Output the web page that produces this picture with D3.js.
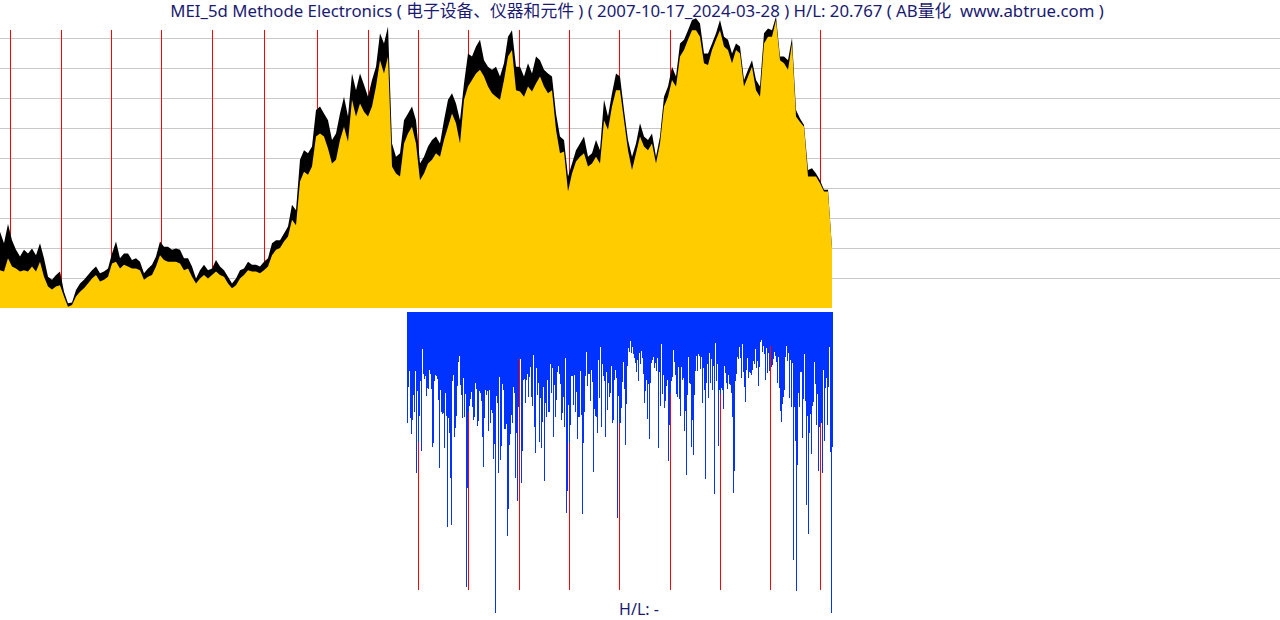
<!DOCTYPE html>
<html><head><meta charset="utf-8">
<script src="https://cdn.jsdelivr.net/npm/d3@7"></script>
<style>html,body{margin:0;padding:0;background:#fff;overflow:hidden}</style>
</head><body>
<svg id="c" width="1280" height="620"></svg>
<script>
const titleText = "MEI_5d Methode Electronics ( 电子设备、仪器和元件 ) ( 2007-10-17_2024-03-28 ) H/L: 20.767 ( AB量化  www.abtrue.com )";
const footerText = "H/L: -";
// trading-day index axis: total bars and index of first bar of each year (2008 … 2024)
const totalDays = 4138;
const yearLabels = [2008,2009,2010,2011,2012,2013,2014,2015,2016,2017,2018,2019,2020,2021,2022,2023,2024];
const yearStartDay = [50,303,552,801,1054,1313,1577,1830,2079,2328,2581,2830,3079,3332,3581,3830,4078];
const barStartDay = 2024;
const gridLevels = [5, 10, 15, 20, 25, 30, 35, 40, 45];

const highVals = [
12.7,10.8,14.0,11.3,9.7,8.6,9.7,9.1,9.9,8.8,10.8,8.3,5.2,4.7,5.5,6.1,2.7,0.8,0.9,3.0,
4.1,4.7,5.5,6.3,6.9,5.8,6.1,6.6,9.1,11.1,8.3,9.1,9.1,8.0,8.3,7.7,5.8,6.6,7.2,8.6,
11.1,10.2,10.2,9.7,9.9,9.7,8.3,8.3,6.9,4.9,6.3,7.2,6.3,6.6,8.0,6.9,6.3,5.2,4.1,4.9,
6.3,6.6,7.7,7.2,7.2,6.9,7.7,8.3,10.8,11.3,11.3,12.4,13.6,17.2,16.3,24.7,26.3,25.8,26.9,33.0,
33.6,32.4,31.3,28.0,29.1,32.4,35.2,31.9,39.1,36.3,39.1,37.2,35.2,38.0,40.2,45.8,44.1,46.9,27.4,25.2,
25.8,31.3,32.4,33.6,31.3,24.1,25.2,26.9,28.0,28.6,27.4,31.3,34.7,35.8,34.1,31.3,37.4,42.4,41.9,43.6,
44.7,41.3,40.2,39.7,40.2,38.6,40.8,45.2,46.3,40.2,40.2,38.6,40.8,39.1,41.9,41.3,39.7,39.1,38.6,32.4,
28.6,28.0,21.9,24.1,26.3,27.4,28.6,25.2,25.8,28.0,26.3,34.7,31.9,35.8,39.1,38.6,33.0,28.0,25.2,27.4,
30.8,28.6,28.0,29.1,25.2,28.6,35.2,36.9,40.2,38.6,44.1,44.7,46.3,48.0,48.3,47.4,42.4,42.4,44.1,45.8,
48.0,45.2,44.7,42.4,44.1,43.6,38.0,39.7,41.3,38.0,36.9,45.8,46.6,46.3,48.6,41.9,41.9,41.3,45.0,33.0,
31.6,30.5,23.0,23.3,22.4,21.3,19.7,19.7,9.9
];
const closeVals = [
6.3,6.1,8.3,6.9,6.6,6.1,6.3,6.1,6.9,6.1,7.7,5.2,3.6,3.1,3.6,3.8,1.9,0.2,0.5,1.9,
2.7,3.3,4.1,4.9,5.5,4.4,4.7,5.2,7.4,7.7,6.6,7.2,6.9,6.6,6.6,6.3,4.7,5.2,5.5,6.9,
8.8,8.0,7.7,7.7,7.7,7.4,6.3,6.6,5.2,4.1,4.9,5.5,4.9,5.5,6.1,5.5,5.2,4.1,3.3,3.8,
4.9,5.5,6.3,6.1,6.1,5.8,6.3,6.9,8.8,9.7,10.0,11.1,11.9,14.7,13.8,21.1,22.7,22.2,23.6,28.6,
29.1,28.6,26.6,24.1,24.7,28.0,30.2,27.7,34.7,31.9,34.1,32.7,31.9,33.6,36.9,41.3,39.1,41.9,23.6,22.4,
21.9,27.4,29.1,30.2,27.4,21.3,22.4,24.1,24.7,25.8,25.2,28.0,30.2,32.4,30.8,27.4,34.7,36.9,38.0,39.1,
39.7,38.6,36.9,35.8,35.2,34.7,38.0,41.9,43.0,36.3,36.1,35.2,36.9,36.1,37.4,38.6,36.9,35.8,36.3,29.7,
25.8,26.1,19.4,22.4,24.4,25.2,25.8,23.6,24.1,25.2,24.1,31.3,29.7,33.6,36.3,36.3,31.3,26.3,23.0,25.8,
28.6,26.9,26.3,27.4,24.1,27.4,33.6,35.2,38.0,36.9,41.9,43.0,44.7,46.3,46.3,45.2,40.8,40.5,43.0,44.7,
46.3,43.6,43.0,40.8,43.0,42.4,36.9,38.6,40.2,36.3,35.2,44.1,45.2,45.2,48.0,41.3,40.8,39.7,44.1,31.9,
31.0,30.2,21.9,21.9,21.9,20.8,19.4,19.4,9.9
];
const barVals = [
340,230,183,325,373,330,255,305,183,490,243,395,318,213,422,117,192,208,197,258,233,237,180,192,238,412,398,213,195,198,208,270,473,240,305,312,308,413,250,318,650,323,368,503,645,213,195,380,353,318,228,157,138,225,255,325,205,320,252,832,535,305,288,268,247,290,330,320,218,237,347,333,243,248,272,380,470,323,240,255,242,362,240,340,300,310,446,402,908,258,280,488,200,450,407,222,240,356,356,342,677,598,405,372,315,338,230,250,
505,368,572,290,147,147,520,422,210,207,280,210,193,262,200,170,262,287,135,350,428,173,255,218,395,263,413,335,232,512,278,320,210,305,305,162,248,173,380,225,320,270,185,168,192,222,330,310,262,350,145,610,542,285,398,345,198,198,285,195,305,245,387,322,320,183,315,613,398,305,197,125,227,192,192,272,180,215,485,298,318,322,368,150,263,112,350,162,198,212,380,185,300,218,262,248,168,340,330,210,180,205,625,258,340,340,295,215,157,238,
405,282,167,113,125,93,128,110,132,145,160,185,150,212,130,162,123,145,192,278,242,210,326,223,387,220,160,150,140,175,160,182,145,413,186,287,102,253,195,293,273,228,210,452,345,250,213,202,120,155,195,252,262,172,268,318,170,210,205,362,302,494,255,140,218,221,410,330,434,255,183,138,182,133,138,178,140,278,175,240,506,220,162,265,128,218,148,240,168,551,100,213,162,407,240,253,235,240,296,168,190,220,238,196,222,225,250,322,550,483,
212,193,140,148,112,145,203,102,185,230,275,180,145,203,187,188,195,180,152,163,118,173,153,228,170,95,90,125,108,133,210,115,190,130,183,108,170,165,148,127,138,155,220,142,235,302,335,282,262,240,140,108,152,128,265,150,292,160,750,290,392,842,465,250,290,185,187,383,268,132,272,585,318,672,368,312,432,288,275,156,222,345,252,482,352,338,340,490,180,392,235,205,345,232,112,425,908,412
];

const svg = d3.select("#c");

const x = d3.scaleLinear().domain([0, totalDays]).range([0, 832]);
const xi = d3.scaleLinear().domain([0, highVals.length - 1]).range([x(0), x(totalDays)]);
const y = d3.scaleLinear().domain([0, 50]).range([308, 8]);
const xb = d3.scaleLinear().domain([0, barVals.length]).range([x(barStartDay), x(totalDays) + 1]);
const yb = d3.scaleLinear().domain([0, 900]).range([310, 610]);

// grid lines
svg.append("g").selectAll("line").data(gridLevels).join("line")
  .attr("x1", 0).attr("x2", 1280)
  .attr("y1", d => Math.round(y(d)) + 0.5).attr("y2", d => Math.round(y(d)) + 0.5)
  .attr("stroke", "#c8c8c8").attr("stroke-width", 1);

const px = d => Math.round(x(d)) + 0.5;
// red year lines (top panel)
svg.append("g").selectAll("line").data(yearStartDay).join("line")
  .attr("x1", px).attr("x2", px)
  .attr("y1", 30).attr("y2", y(0))
  .attr("stroke", "#ff0000").attr("stroke-width", 1);

// black high area
const idx = d3.range(highVals.length);
svg.append("path").datum(idx)
  .attr("d", d3.area().x(i => xi(i)).y0(y(0)).y1(i => y(highVals[i])))
  .attr("fill", "#000000");
// yellow close area
svg.append("path").datum(idx)
  .attr("d", d3.area().x(i => xi(i)).y0(y(0)).y1(i => y(closeVals[i])))
  .attr("fill", "#ffcc00");

// red year lines (bottom panel)
svg.append("g").selectAll("line").data(yearStartDay.filter(d => d >= barStartDay)).join("line")
  .attr("x1", px).attr("x2", px)
  .attr("y1", 312).attr("y2", 590)
  .attr("stroke", "#ff0000").attr("stroke-width", 1);

// blue bars
const bw = xb(1) - xb(0);
svg.append("g").attr("shape-rendering", "crispEdges").selectAll("rect").data(barVals).join("rect")
  .attr("x", (d, i) => xb(i)).attr("width", bw + 0.2)
  .attr("y", 312).attr("height", d => yb(d) - 312)
  .attr("fill", "#0033ff");

svg.append("text").attr("x", 637).attr("y", 17).attr("text-anchor", "middle")
  .attr("xml:space", "preserve").style("white-space", "pre")
  .attr("font-family", "'Noto Sans', 'Noto Sans CJK SC', sans-serif").attr("font-size", 16.8)
  .attr("fill", "#1a1a70").text(titleText);
svg.append("text").attr("x", 639).attr("y", 615).attr("text-anchor", "middle")
  .attr("font-family", "'Noto Sans', 'Noto Sans CJK SC', sans-serif").attr("font-size", 16)
  .attr("fill", "#1a1a70").text(footerText);
</script>
</body></html>
